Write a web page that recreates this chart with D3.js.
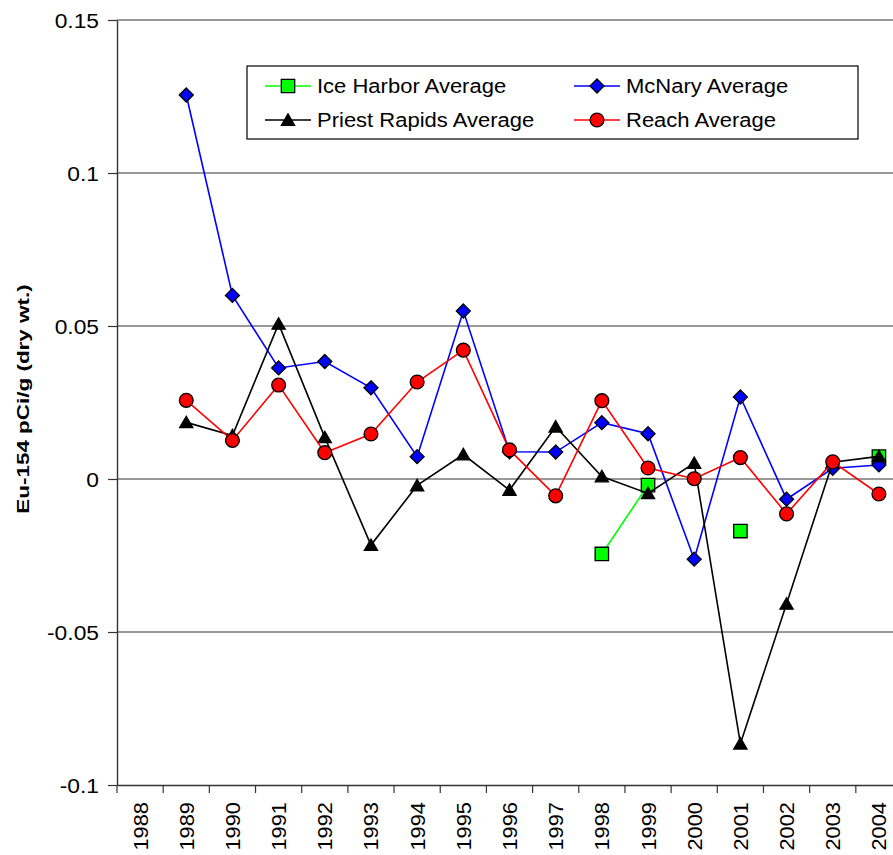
<!DOCTYPE html>
<html>
<head>
<meta charset="utf-8">
<script src="https://cdn.jsdelivr.net/npm/d3@7"></script>
<style>
  html, body { margin: 0; padding: 0; background: #fff; }
  svg { display: block; font-family: "Liberation Sans", Arial, sans-serif; }
</style>
</head>
<body>
<div id="chart"></div>
<script>
// Values
const years = ["1988", "1989", "1990", "1991", "1992", "1993", "1994", "1995", "1996",
    "1997", "1998", "1999", "2000", "2001", "2002", "2003", "2004"];
const iceHarbor = [null, null, null, null, null, null, null, null, null, null,
    -0.0245, -0.0020, null, -0.0170, null, null, 0.0073];
const mcnary = [null, 0.1255, 0.0600, 0.0363, 0.0384, 0.0298, 0.0073, 0.0549, 0.0089,
    0.0088, 0.0184, 0.0148, -0.0262, 0.0268, -0.0066, 0.0035, 0.0046];
const priestRapids = [null, 0.0185, 0.0142, 0.0507, 0.0136, -0.0216, -0.0021, 0.0080, -0.0036,
    0.0171, 0.0008, -0.0047, 0.0052, -0.0865, -0.0408, 0.0055, 0.0074];
const reach = [null, 0.0257, 0.0126, 0.0307, 0.0086, 0.0147, 0.0317, 0.0421, 0.0095,
    -0.0055, 0.0256, 0.0036, 0.0001, 0.0070, -0.0114, 0.0056, -0.0049];
const yTicks = [-0.1, -0.05, 0, 0.05, 0.1, 0.15];
const yTickLabels = ["-0.1", "-0.05", "0", "0.05", "0.1", "0.15"];

const seriesNames = ["Ice Harbor Average", "McNary Average", "Priest Rapids Average", "Reach Average"];

// Chart size (the plot runs a bit past the right edge, as in the original)
const W = 893, H = 855;
const margin = {left: 117, right: 902, top: 20, bottom: 785};

const svg = d3.select("#chart").append("svg")
    .attr("width", W)
    .attr("height", H);

const x = d3.scaleBand().domain(years).range([margin.left, margin.right]);
const y = d3.scaleLinear().domain([-0.1, 0.15]).range([margin.bottom, margin.top]);

// stretch text along its reading direction (the original font renders wide)
const stretch = (sel, k) => sel.each(function () {
    const w = this.getComputedTextLength();
    d3.select(this).attr("textLength", w * k).attr("lengthAdjust", "spacingAndGlyphs");
});

// Gridlines
svg.append("g")
    .selectAll("line")
    .data(yTicks.filter(t => t > -0.1))
    .enter().append("line")
    .attr("x1", margin.left).attr("x2", W)
    .attr("y1", d => y(d)).attr("y2", d => y(d))
    .attr("stroke", "#333").attr("stroke-width", 1.2);

// Y axis
const yAxis = svg.append("g")
    .attr("transform", `translate(${margin.left},0)`)
    .call(d3.axisLeft(y).tickValues(yTicks).tickSize(9).tickSizeOuter(0)
        .tickFormat((d, i) => yTickLabels[i]));
yAxis.select(".domain").attr("stroke", "#333").attr("stroke-width", 1.4);
yAxis.selectAll(".tick line").attr("stroke", "#333").attr("stroke-width", 1.2);
yAxis.selectAll(".tick text")
    .attr("x", -18)
    .attr("dy", null)
    .attr("dominant-baseline", "central")
    .attr("font-size", "20px")
    .attr("fill", "#000")
    .call(stretch, 1.14);

// X axis: ticks sit between categories
const xAxis = svg.append("g")
    .attr("transform", `translate(0,${margin.bottom})`)
    .call(d3.axisBottom(x).tickSize(0).tickSizeOuter(0));
xAxis.select(".domain").attr("stroke", "#333").attr("stroke-width", 1.6);
xAxis.selectAll(".tick text")
    .attr("transform", "rotate(-90)")
    .attr("x", -17)
    .attr("y", 0)
    .attr("dy", null)
    .attr("dominant-baseline", "central")
    .attr("text-anchor", "end")
    .attr("font-size", "21px")
    .attr("fill", "#000")
    .call(stretch, 1.04);
svg.append("g")
    .selectAll("line")
    .data(years)
    .enter().append("line")
    .attr("x1", d => x(d)).attr("x2", d => x(d))
    .attr("y1", margin.bottom).attr("y2", margin.bottom + 8)
    .attr("stroke", "#333").attr("stroke-width", 1.2);

// Y axis title
svg.append("text")
    .attr("transform", `translate(23,${(283 + 515) / 2}) rotate(-90)`)
    .attr("text-anchor", "middle")
    .attr("dominant-baseline", "central")
    .attr("font-size", "17px")
    .attr("font-weight", "bold")
    .text("Eu-154 pCi/g (dry wt.)")
    .call(stretch, 1.32);

// Marker shapes
const symbols = {
    square: d3.symbol().type(d3.symbolSquare).size(180),
    diamond: d3.symbol().type(d3.symbolDiamond2).size(125),
    triangle: d3.symbol().type(d3.symbolTriangle2).size(125),
    circle: d3.symbol().type(d3.symbolCircle).size(150)
};

const series = [
    {name: seriesNames[0], values: iceHarbor, color: "#00ff00", shape: "square"},
    {name: seriesNames[1], values: mcnary, color: "#0000ff", shape: "diamond"},
    {name: seriesNames[2], values: priestRapids, color: "#000000", shape: "triangle"},
    {name: seriesNames[3], values: reach, color: "#ff0000", shape: "circle"}
];

const line = d3.line()
    .defined(d => d.v !== null)
    .x(d => x(d.year) + x.bandwidth() / 2)
    .y(d => y(d.v));

// Triangle centroid sits lower than bbox center; nudge so the marker is centred on the point
const shapeOffset = {square: 0, diamond: 0, triangle: 1.5, circle: 0};

series.forEach(s => {
    const pts = years.map((yr, i) => ({year: yr, v: s.values[i]}));
    const g = svg.append("g");
    g.append("path")
        .datum(pts)
        .attr("d", line)
        .attr("fill", "none")
        .attr("stroke", s.color)
        .attr("stroke-width", 1.6);
    g.selectAll("path.mark")
        .data(pts.filter(d => d.v !== null))
        .enter().append("path")
        .attr("class", "mark")
        .attr("d", symbols[s.shape])
        .attr("transform", d => `translate(${x(d.year) + x.bandwidth() / 2},${y(d.v) + shapeOffset[s.shape]})`)
        .attr("fill", s.color)
        .attr("stroke", "#000")
        .attr("stroke-width", 1.3);
});

// Legend
const legend = svg.append("g");
legend.append("rect")
    .attr("x", 247).attr("y", 66)
    .attr("width", 611).attr("height", 73)
    .attr("fill", "#fff")
    .attr("stroke", "#000")
    .attr("stroke-width", 1.2);

const legendPos = [
    {x: 265, y: 86}, {x: 574, y: 86},
    {x: 265, y: 120}, {x: 574, y: 120}
];
series.forEach((s, i) => {
    const p = legendPos[i];
    const item = legend.append("g").attr("transform", `translate(${p.x},${p.y})`);
    item.append("line")
        .attr("x1", 0).attr("x2", 46)
        .attr("stroke", s.color)
        .attr("stroke-width", 1.6);
    item.append("path")
        .attr("d", symbols[s.shape])
        .attr("transform", `translate(23,${shapeOffset[s.shape]})`)
        .attr("fill", s.color)
        .attr("stroke", "#000")
        .attr("stroke-width", 1.3);
    item.append("text")
        .attr("x", 52)
        .attr("dominant-baseline", "central")
        .attr("font-size", "20px")
        .text(s.name)
        .call(stretch, 1.1);
});
</script>
</body>
</html>
